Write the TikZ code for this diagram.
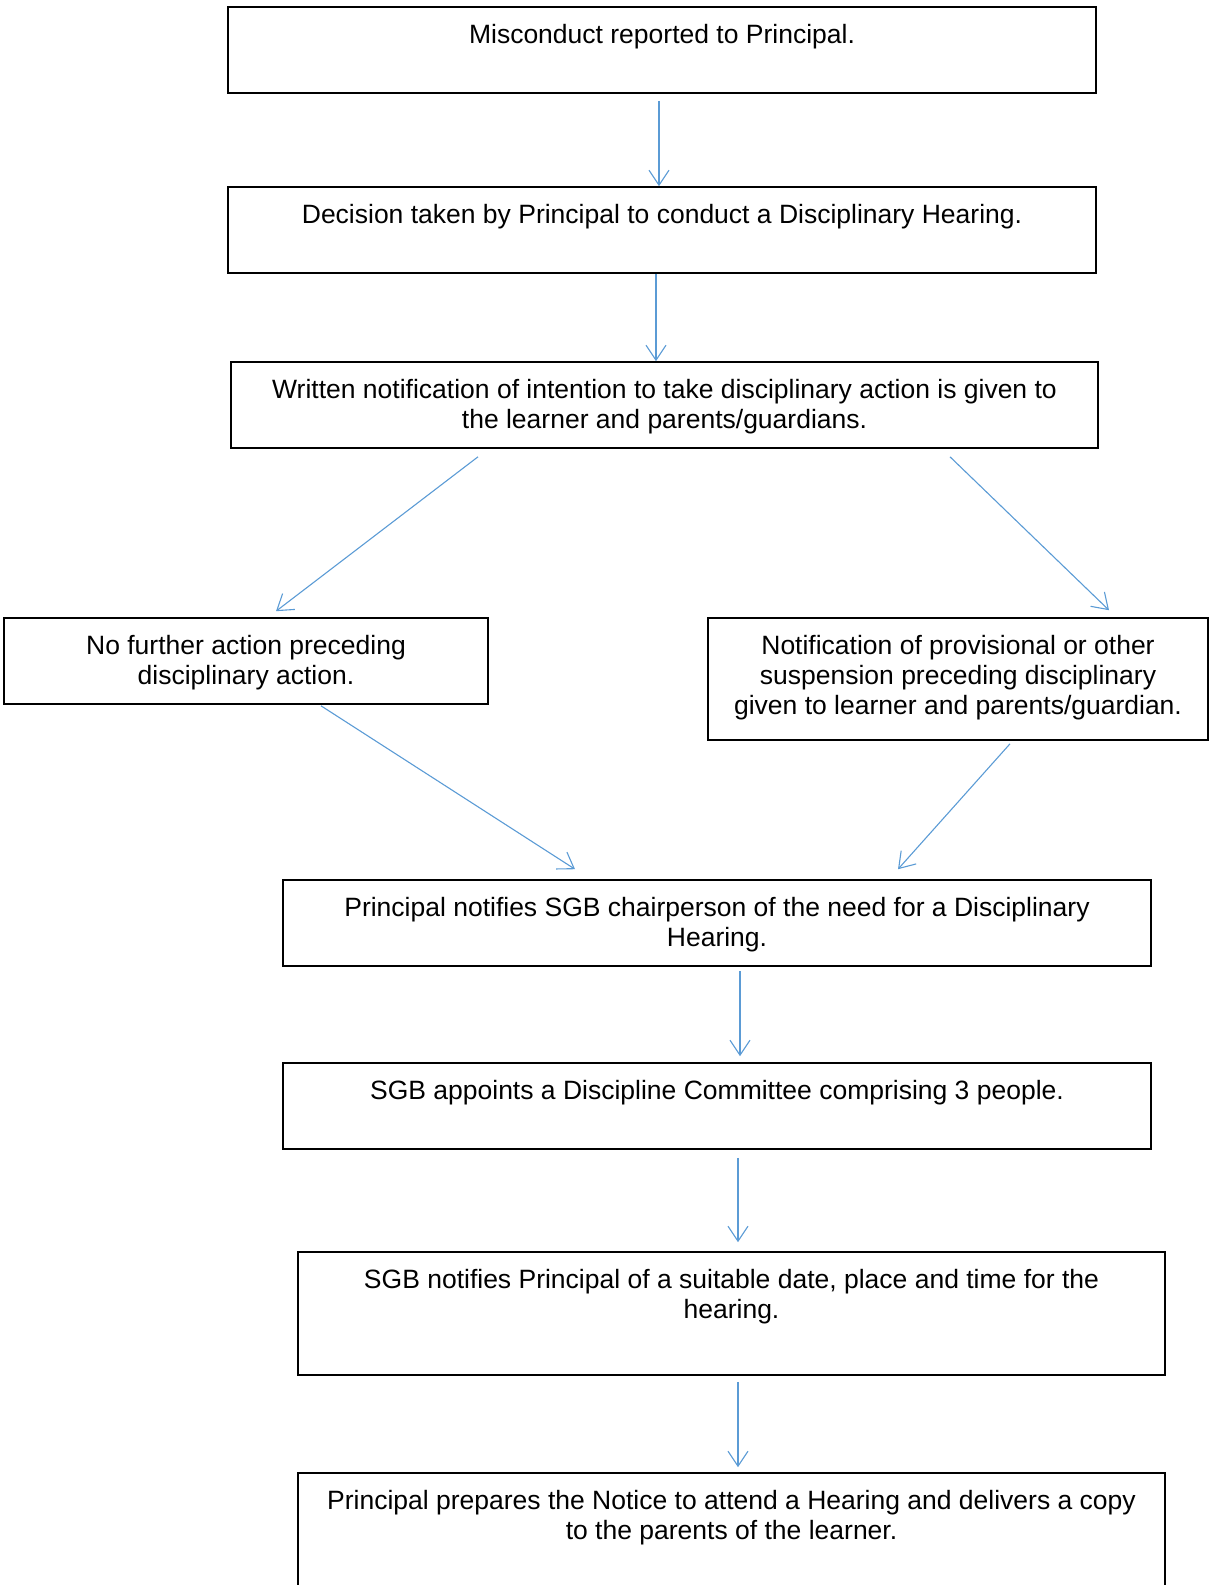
\documentclass[tikz,border=0pt]{standalone}
\usepackage{fontspec}
\setmainfont{Liberation Sans}
\usetikzlibrary{arrows.meta}
\definecolor{arrowblue}{RGB}{91,155,213}
\tikzset{
  box/.style={draw=black, line width=1.6pt, fill=none, rectangle, inner sep=0pt},
  txt/.style={anchor=north, align=center, inner sep=0pt, font=\fontsize{26.5}{29.7}\selectfont},
  flow/.style={draw=arrowblue, line width=1.1pt, -{Straight Barb[length=15pt,width=20pt,line width=1.1pt]}}
}
\begin{document}
\begin{tikzpicture}[x=1pt,y=-1pt]
\useasboundingbox (0,0) rectangle (1209,1585);
% boxes
\node[box, minimum width=868, minimum height=86] (b1) at (662,50) {};
\node[box, minimum width=868, minimum height=86] (b2) at (662,230) {};
\node[box, minimum width=867, minimum height=86] (b3) at (664.5,405) {};
\node[box, minimum width=484, minimum height=86] (b4) at (246,661) {};
\node[box, minimum width=500, minimum height=122] (b5) at (958,679) {};
\node[box, minimum width=868, minimum height=86] (b6) at (717,923) {};
\node[box, minimum width=868, minimum height=86] (b7) at (717,1106) {};
\node[box, minimum width=867, minimum height=123] (b8) at (731.5,1313.5) {};
\node[box, minimum width=867, minimum height=150] (b9) at (731.5,1548) {};
% texts
\node[txt] (t1) at ([yshift=-18pt]b1.north) {Misconduct reported to Principal.};
\node[txt] (t2) at ([yshift=-18pt]b2.north) {Decision taken by Principal to conduct a Disciplinary Hearing.};
\node[txt] (t3) at ([yshift=-18pt]b3.north) {Written notification of intention to take disciplinary action is given to\\the learner and parents/guardians.};
\node[txt] (t4) at ([yshift=-18pt]b4.north) {No further action preceding\\disciplinary action.};
\node[txt] (t5) at ([yshift=-18pt]b5.north) {Notification of provisional or other\\suspension preceding disciplinary\\given to learner and parents/guardian.};
\node[txt] (t6) at ([yshift=-18pt]b6.north) {Principal notifies SGB chairperson of the need for a Disciplinary\\Hearing.};
\node[txt] (t7) at ([yshift=-18pt]b7.north) {SGB appoints a Discipline Committee comprising 3 people.};
\node[txt] (t8) at ([yshift=-18pt]b8.north) {SGB notifies Principal of a suitable date, place and time for the\\hearing.};
\node[txt] (t9) at ([yshift=-18pt]b9.north) {Principal prepares the Notice to attend a Hearing and delivers a copy\\to the parents of the learner.};
% connectors
\draw[flow] ([xshift=-3pt,yshift=-7pt]b1.south) -- ([xshift=-3pt]b2.north);
\draw[flow] ([xshift=-6pt]b2.south) -- ([xshift=-8.5pt]b3.north);
\draw[flow] ([xshift=-186.5pt,yshift=-8pt]b3.south) -- ([xshift=30pt,yshift=6pt]b4.north);
\draw[flow] ([xshift=285.5pt,yshift=-8pt]b3.south) -- ([xshift=151pt,yshift=7pt]b5.north);
\draw[flow] ([xshift=75pt,yshift=-1pt]b4.south) -- ([xshift=-142pt,yshift=10pt]b6.north);
\draw[flow] ([xshift=52pt,yshift=-3pt]b5.south) -- ([xshift=181pt,yshift=10pt]b6.north);
\draw[flow] ([xshift=23pt,yshift=-4pt]b6.south) -- ([xshift=23pt,yshift=6pt]b7.north);
\draw[flow] ([xshift=21pt,yshift=-8pt]b7.south) -- ([xshift=6.5pt,yshift=9pt]b8.north);
\draw[flow] ([xshift=6.5pt,yshift=-6pt]b8.south) -- ([xshift=6.5pt,yshift=5pt]b9.north);
\end{tikzpicture}
\end{document}
